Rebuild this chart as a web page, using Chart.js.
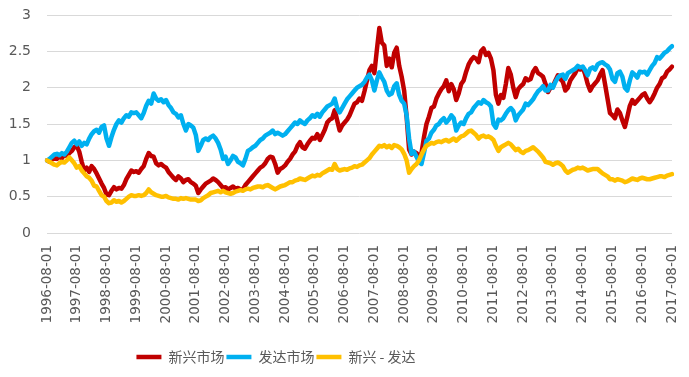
<!DOCTYPE html>
<html>
<head>
<meta charset="utf-8">
<script src="https://cdn.jsdelivr.net/npm/chart.js@4/dist/chart.umd.min.js"></script>
<style>
  html, body { margin: 0; padding: 0; background: #fff; }
  #wrap { width: 689px; height: 377px; }
</style>
</head>
<body>
<div id="wrap"><canvas id="ctr" width="689" height="377"></canvas></div>
<script>
// series names
const seriesNames = ['新兴市场', '发达市场', '新兴 - 发达'];

// yearly tick labels on the x axis
const tickLabels = ['1996-08-01', '1997-08-01', '1998-08-01', '1999-08-01', '2000-08-01', '2001-08-01',
  '2002-08-01', '2003-08-01', '2004-08-01', '2005-08-01', '2006-08-01', '2007-08-01', '2008-08-01',
  '2009-08-01', '2010-08-01', '2011-08-01', '2012-08-01', '2013-08-01', '2014-08-01', '2015-08-01',
  '2016-08-01', '2017-08-01'];

// monthly values, 1996-08 .. 2017-08 (one row = 12 months from August)
const emerging = [
  1.00, 0.98, 1.01, 1.03, 1.02, 1.05, 1.03, 1.08, 1.06, 1.10, 1.13, 1.18,
  1.20, 1.12, 0.98, 0.86, 0.90, 0.84, 0.92, 0.88, 0.82, 0.75, 0.68, 0.62,
  0.53, 0.52, 0.58, 0.63, 0.60, 0.62, 0.61, 0.66, 0.74, 0.80, 0.86, 0.84,
  0.85, 0.83, 0.88, 0.92, 1.02, 1.10, 1.06, 1.05, 0.96, 0.93, 0.95, 0.92,
  0.90, 0.84, 0.80, 0.76, 0.73, 0.78, 0.75, 0.70, 0.73, 0.74, 0.70, 0.68,
  0.65, 0.55, 0.60, 0.64, 0.68, 0.70, 0.72, 0.75, 0.73, 0.70, 0.66, 0.62,
  0.63, 0.60, 0.62, 0.64, 0.61, 0.62, 0.60, 0.60, 0.66, 0.70, 0.74, 0.78,
  0.82, 0.86, 0.90, 0.92, 0.96, 1.02, 1.05, 1.04, 0.95, 0.83, 0.88, 0.90,
  0.93, 0.98, 1.02, 1.08, 1.12, 1.20, 1.25, 1.18, 1.16, 1.22, 1.27, 1.31,
  1.30, 1.36, 1.28, 1.35, 1.42, 1.52, 1.56, 1.58, 1.69, 1.55, 1.41, 1.48,
  1.52, 1.56, 1.62, 1.70, 1.78, 1.80, 1.85, 1.82, 1.95, 2.10, 2.24, 2.30,
  2.20, 2.52, 2.82, 2.62, 2.58, 2.30, 2.40, 2.28, 2.48, 2.55, 2.30, 2.15,
  1.96, 1.60, 1.15, 1.08, 1.12, 1.10, 1.05, 1.10, 1.32, 1.50, 1.60, 1.72,
  1.74, 1.85, 1.92, 1.98, 2.02, 2.10, 1.95, 2.05, 1.98, 1.83, 1.92, 2.05,
  2.10, 2.22, 2.32, 2.38, 2.42, 2.40, 2.35, 2.50, 2.54, 2.45, 2.48, 2.40,
  2.24, 1.90, 1.78, 1.90, 1.86, 2.05, 2.27, 2.18, 2.00, 1.87, 1.98, 2.02,
  2.05, 2.13, 2.10, 2.12, 2.22, 2.27, 2.20, 2.18, 2.15, 2.05, 1.94, 2.00,
  2.02, 2.10, 2.17, 2.12, 2.08, 1.96, 2.00, 2.10, 2.15, 2.20, 2.27, 2.25,
  2.28, 2.18, 2.05, 1.96, 2.02, 2.06, 2.10, 2.18, 2.24, 2.05, 1.85, 1.65,
  1.62, 1.58, 1.70, 1.65, 1.55, 1.46, 1.60, 1.75, 1.83, 1.78, 1.82, 1.86,
  1.90, 1.92, 1.85, 1.80, 1.85, 1.92, 2.00, 2.05, 2.13, 2.15, 2.22, 2.25,
  2.29
];

const developed = [
  1.00, 1.02, 1.05, 1.08, 1.09, 1.07, 1.10, 1.08, 1.12, 1.18, 1.24, 1.27,
  1.22, 1.26, 1.20, 1.24, 1.22, 1.30, 1.36, 1.40, 1.42, 1.38, 1.46, 1.48,
  1.30, 1.20, 1.32, 1.42, 1.50, 1.55, 1.52, 1.58, 1.62, 1.60, 1.66, 1.65,
  1.66, 1.62, 1.58, 1.65, 1.75, 1.82, 1.78, 1.92, 1.85, 1.82, 1.84, 1.80,
  1.83, 1.76, 1.72, 1.66, 1.64, 1.59, 1.62, 1.50, 1.41, 1.50, 1.48, 1.45,
  1.35, 1.13, 1.20, 1.28, 1.30, 1.28, 1.32, 1.34, 1.30, 1.24, 1.15, 1.02,
  1.05, 0.95, 1.00, 1.06, 1.04, 0.98, 0.96, 0.93, 1.02, 1.13, 1.15, 1.18,
  1.20, 1.24, 1.28, 1.30, 1.34, 1.36, 1.38, 1.41, 1.36, 1.38, 1.36, 1.34,
  1.36, 1.40, 1.44, 1.48, 1.52, 1.50, 1.55, 1.52, 1.50, 1.55, 1.58, 1.62,
  1.60, 1.64, 1.60, 1.66, 1.70, 1.74, 1.76, 1.78, 1.85, 1.72, 1.66, 1.72,
  1.78, 1.84, 1.88, 1.92, 1.96, 2.00, 2.02, 2.04, 2.08, 2.14, 2.18, 2.10,
  1.96, 2.10, 2.21, 2.14, 2.08, 1.96, 1.90, 1.92, 2.02, 2.06, 1.90, 1.82,
  1.78, 1.62, 1.30, 1.09, 1.12, 1.05, 0.98, 0.95, 1.10, 1.27, 1.30, 1.38,
  1.42, 1.48, 1.50, 1.55, 1.58, 1.52, 1.56, 1.62, 1.58, 1.41, 1.48, 1.52,
  1.50, 1.58, 1.64, 1.66, 1.72, 1.76, 1.80, 1.78, 1.83, 1.80, 1.78, 1.74,
  1.50, 1.45, 1.56, 1.55, 1.58, 1.64, 1.69, 1.72, 1.68, 1.55, 1.62, 1.66,
  1.70, 1.78, 1.76, 1.80, 1.84, 1.90, 1.95, 1.98, 2.02, 1.96, 1.96, 2.04,
  2.00, 2.08, 2.14, 2.17, 2.18, 2.12, 2.20, 2.22, 2.24, 2.26, 2.30, 2.28,
  2.29, 2.24, 2.17, 2.26, 2.28, 2.25, 2.32, 2.34, 2.35, 2.32, 2.30, 2.25,
  2.12, 2.08, 2.20, 2.22, 2.15, 2.00, 1.96, 2.10, 2.21, 2.18, 2.14, 2.22,
  2.21, 2.22, 2.18, 2.24, 2.30, 2.34, 2.42, 2.40, 2.44, 2.48, 2.50, 2.54,
  2.57
];

const spread = [
  1.00, 0.98, 0.96, 0.94, 0.93, 0.96, 0.98, 0.97, 1.00, 1.04, 1.00, 0.96,
  0.90, 0.92, 0.86, 0.82, 0.78, 0.76, 0.72, 0.65, 0.64, 0.58, 0.52, 0.50,
  0.44, 0.41, 0.42, 0.45, 0.43, 0.44, 0.42, 0.44, 0.47, 0.50, 0.52, 0.51,
  0.51, 0.52, 0.51, 0.52, 0.55, 0.60, 0.56, 0.54, 0.52, 0.51, 0.50, 0.50,
  0.51, 0.49, 0.48, 0.47, 0.47, 0.46, 0.48, 0.47, 0.48, 0.47, 0.46, 0.46,
  0.46, 0.44, 0.45, 0.48, 0.50, 0.52, 0.55, 0.56, 0.57, 0.58, 0.56, 0.58,
  0.56, 0.55, 0.54, 0.55, 0.57, 0.58, 0.59, 0.58, 0.60, 0.61, 0.60, 0.62,
  0.63, 0.64, 0.64, 0.63, 0.65, 0.66, 0.64, 0.62, 0.60, 0.62, 0.64, 0.65,
  0.66, 0.68, 0.70, 0.70, 0.72, 0.73, 0.75, 0.74, 0.73, 0.75, 0.77, 0.79,
  0.78, 0.80, 0.79, 0.82, 0.84, 0.86, 0.88, 0.87, 0.95, 0.88, 0.86, 0.87,
  0.88, 0.87, 0.89, 0.90, 0.92, 0.91, 0.93, 0.94, 0.97, 1.00, 1.03, 1.08,
  1.12, 1.16, 1.20, 1.19, 1.21, 1.18, 1.20, 1.17, 1.21, 1.20, 1.18, 1.15,
  1.09, 1.00, 0.83, 0.88, 0.92, 0.95, 1.00, 1.08, 1.15, 1.20, 1.22, 1.24,
  1.23, 1.25, 1.26, 1.25, 1.27, 1.28, 1.26, 1.28, 1.30, 1.27, 1.30, 1.33,
  1.34, 1.37, 1.40, 1.41, 1.38, 1.35, 1.30, 1.33, 1.34, 1.32, 1.33, 1.31,
  1.28, 1.20, 1.13, 1.18, 1.20, 1.22, 1.24, 1.22, 1.18, 1.14, 1.16, 1.12,
  1.10, 1.13, 1.14, 1.16, 1.18, 1.15, 1.12, 1.08, 1.04, 0.98, 0.97, 0.96,
  0.94, 0.96, 0.97, 0.95, 0.92, 0.86, 0.83, 0.85, 0.87, 0.88, 0.90, 0.89,
  0.90, 0.88, 0.86, 0.87, 0.88, 0.88, 0.88, 0.85, 0.82, 0.80, 0.78, 0.74,
  0.74, 0.72, 0.74, 0.73, 0.72, 0.70, 0.71, 0.73, 0.75, 0.74, 0.73, 0.75,
  0.76, 0.75, 0.74, 0.74, 0.75, 0.76, 0.77, 0.78, 0.78, 0.77, 0.79, 0.80,
  0.81
];

// one category per month, a tick label every 12th month
const labels = emerging.map((v, i) => i % 12 === 0 ? tickLabels[i / 12] : '');

const textColor = '#595959';
const tickFont = { family: '"DejaVu Sans", sans-serif', size: 14 };

// Excel put the legend a bit left of centre
const legendShift = {
  id: 'legendShift',
  beforeDraw(chart) {
    const lg = chart.legend;
    if (lg && !lg._shifted) {
      lg.left -= 62;
      lg.right -= 62;
      lg._shifted = true;
    }
  }
};

const ctx = document.getElementById('ctr').getContext('2d');
const chart = new Chart(ctx, {
  type: 'line',
  data: {
    labels: labels,
    datasets: [
      { label: seriesNames[0], data: emerging, borderColor: '#C00000', backgroundColor: '#C00000', order: 3 },
      { label: seriesNames[1], data: developed, borderColor: '#00B0F0', backgroundColor: '#00B0F0', order: 2 },
      { label: seriesNames[2], data: spread, borderColor: '#FFC000', backgroundColor: '#FFC000', order: 1 }
    ]
  },
  options: {
    responsive: false,
    animation: false,
    layout: { autoPadding: false, padding: { top: 15, right: 17, left: 4, bottom: 3 } },
    elements: {
      line: { borderWidth: 4.5, tension: 0, borderJoinStyle: 'round', borderCapStyle: 'round' },
      point: { radius: 0, hoverRadius: 0, borderWidth: 4.5 }
    },
    scales: {
      x: {
        offset: false,
        grid: { display: false },
        border: { display: false },
        afterFit: (scale) => {
          scale.height = 115;
          scale.paddingLeft = 0;
          scale.paddingRight = 0;
        },
        ticks: {
          autoSkip: false,
          minRotation: 90,
          maxRotation: 90,
          padding: 4,
          color: textColor,
          font: { family: '"DejaVu Sans", sans-serif', size: 13.5 },
          callback: function (val, i) {
            return i % 12 === 0 ? labels[i] : null;
          }
        }
      },
      y: {
        min: 0,
        max: 3,
        grid: { color: '#d9d9d9', drawTicks: false },
        border: { display: false },
        afterFit: (scale) => {
          scale.width = 43;
          scale.paddingTop = 0;
          scale.paddingBottom = 0;
        },
        ticks: {
          stepSize: 0.5,
          padding: 16,
          color: textColor,
          font: tickFont,
          callback: (v) => v
        }
      }
    },
    plugins: {
      tooltip: { enabled: false },
      legend: {
        position: 'bottom',
        labels: {
          color: textColor,
          font: { family: '"Noto Sans CJK SC", sans-serif', size: 14 },
          usePointStyle: true,
          pointStyle: 'line',
          pointStyleWidth: 25,
          boxHeight: 14,
          padding: 2,
          sort: (a, b) => a.datasetIndex - b.datasetIndex
        }
      }
    }
  },
  plugins: [legendShift]
});
</script>
</body>
</html>
